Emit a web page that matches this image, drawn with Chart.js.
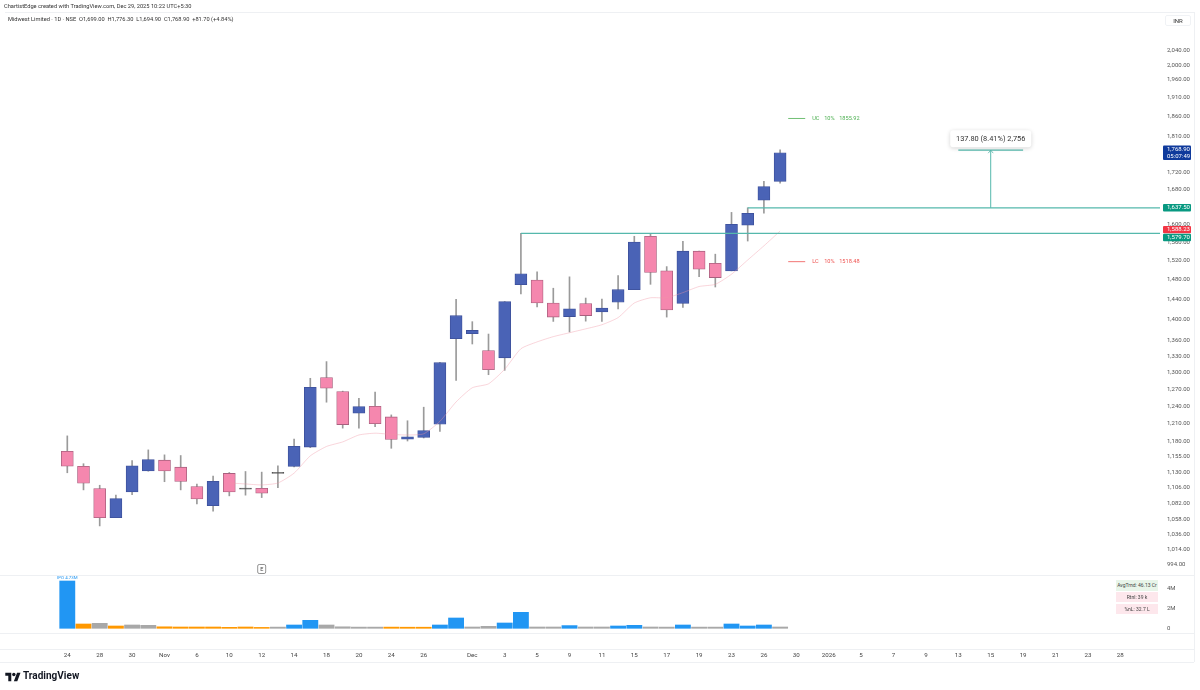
<!DOCTYPE html>
<html>
<head>
<meta charset="utf-8">
<title>Midwest Limited</title>
<script src="https://cdn.jsdelivr.net/npm/chart.js@4/dist/chart.umd.min.js"></script>
<style>
    html, body { margin: 0; padding: 0; background: #fff; }
    #wrap { position: relative; width: 1200px; height: 690px; overflow: hidden; font-family: Roboto, sans-serif; color: #333; }
    canvas { position: absolute; left: 0; top: 0; }
    .rule { position: absolute; background: #eef0f3; }
    .txt { position: absolute; white-space: nowrap; }
    .stat { position: absolute; left: 1116px; width: 42px; text-align: center; font-size: 5px; color: #444; }
</style>
</head>
<body>
<div id="wrap">
    <div class="rule" style="left:5px;top:12px;width:1189px;height:1px"></div>
    <div class="rule" style="left:1194px;top:12px;width:1px;height:650px"></div>
    <div class="rule" style="left:0;top:575px;width:1194px;height:1px"></div>
    <div class="rule" style="left:0;top:633px;width:1194px;height:1px"></div>
    <div class="rule" style="left:0;top:649px;width:1194px;height:1px"></div>
    <div class="rule" style="left:0;top:662px;width:1194px;height:1px"></div>
    <canvas id="chart" width="1200" height="690"></canvas>
    <div class="txt" style="left:4px;top:2px;font-size:5.7px;line-height:8px;color:#333">ChartistEdge created with TradingView.com, Dec 29, 2025 10:22 UTC+5:30</div>
    <div class="txt" style="left:8px;top:15px;font-size:5.7px;line-height:8px;color:#333">Midwest Limited · 1D · NSE&nbsp; O1,699.00&nbsp; H1,776.30&nbsp; L1,694.90&nbsp; C1,768.90&nbsp; +81.70 (+4.84%)</div>
    <div class="txt" style="left:1165px;top:15px;width:26px;height:11px;border:1px solid #f0f2f5;border-radius:2px;font-size:6px;line-height:10px;text-align:center;box-sizing:border-box">INR</div>
    <div class="stat" style="top:580px;height:11px;line-height:11px;background:#e8f5e9">AvgTrnd: 46.13 Cr</div>
    <div class="stat" style="top:592px;height:10px;line-height:10px;background:#fde7ec">Rtnl: 39 k</div>
    <div class="stat" style="top:604px;height:10px;line-height:10px;background:#fde7ec">%nL: 32.7 L</div>
    <svg style="position:absolute;left:5px;top:671px" width="16" height="12" viewBox="0 0 36 28"><path fill="#131722" d="M14 24H7V11H0V4h14v20zM28 24h-8l7.5-20h8L28 24z"/><circle cx="20" cy="8" r="4" fill="#131722"/></svg>
    <div class="txt" style="left:23px;top:669px;font-size:10px;line-height:14px;font-weight:700;color:#131722">TradingView</div>
</div>
<script>
// OHLC per session, IPO day first
const candleOpen = [1164, 1140, 1104.8, 1060.8, 1099.7, 1132.5, 1149.7, 1138.5, 1108, 1078.5, 1128.5, 1105.3, 1105.3, 1128.5, 1139.5, 1171, 1291, 1265.6, 1228, 1240, 1221.5, 1184, 1186.8, 1209, 1363, 1372.5, 1340.5, 1327, 1470.3, 1480, 1433, 1406, 1432, 1415, 1434.5, 1460, 1573.5, 1499, 1432, 1541, 1515, 1499, 1598.2, 1655, 1699];
const candleHigh = [1189.5, 1144, 1110, 1094.7, 1149, 1166.4, 1158.3, 1157.2, 1112, 1124.4, 1130, 1131.6, 1130.6, 1140.6, 1184, 1289.5, 1320, 1266.5, 1254, 1264.7, 1225, 1215, 1238.3, 1318.5, 1440.6, 1396, 1372, 1436, 1580, 1497, 1463, 1486.5, 1443, 1441, 1489, 1573.5, 1578.5, 1508, 1562.5, 1541, 1534.5, 1627, 1637.5, 1699.5, 1776.3];
const candleLow = [1129.6, 1102.8, 1048.5, 1060.8, 1095.6, 1132, 1115.5, 1102.8, 1081.5, 1070.5, 1093.6, 1094.7, 1091, 1106.3, 1139, 1170, 1247, 1202.5, 1202.5, 1205, 1169, 1181, 1186, 1197, 1285.6, 1353, 1296, 1304, 1451.5, 1425, 1396.5, 1376, 1397, 1396.5, 1421, 1460, 1471, 1405, 1424, 1487, 1465.5, 1499, 1563, 1625, 1694.9];
const candleClose = [1140, 1113.1, 1060.8, 1089.5, 1140.6, 1150.7, 1132.5, 1116, 1089, 1116, 1099.5, 1104, 1097.7, 1129.6, 1172.2, 1273.4, 1271.7, 1208.5, 1239.3, 1210, 1183.5, 1188, 1198.5, 1318, 1407.8, 1379, 1305, 1435.8, 1493, 1433, 1405, 1421.5, 1408, 1422.7, 1460, 1561, 1495.5, 1419, 1541, 1502.5, 1485, 1600, 1625, 1687.2, 1768.9];
const maValues = [null, null, null, null, null, null, null, null, null, null, 1113.5, 1112, 1110.5, 1113.5, 1129, 1156.7, 1172, 1179.5, 1191, 1194, 1192, 1191, 1193, 1214, 1247.5, 1272.5, 1279.5, 1306, 1344, 1357, 1367, 1374.5, 1382, 1390, 1404, 1433, 1443.5, 1443.5, 1454, 1466.5, 1471, 1492, 1522, 1552.5, 1585];
const volumes = [4.73e6, 0.43e6, 0.5e6, 0.23e6, 0.33e6, 0.3e6, 0.15e6, 0.13e6, 0.13e6, 0.13e6, 0.1e6, 0.13e6, 0.09e6, 0.12e6, 0.33e6, 0.8e6, 0.33e6, 0.15e6, 0.12e6, 0.12e6, 0.12e6, 0.11e6, 0.11e6, 0.33e6, 1.03e6, 0.13e6, 0.2e6, 0.53e6, 1.6e6, 0.13e6, 0.13e6, 0.27e6, 0.13e6, 0.13e6, 0.23e6, 0.3e6, 0.13e6, 0.12e6, 0.33e6, 0.12e6, 0.12e6, 0.43e6, 0.23e6, 0.33e6, 0.13e6];
const volumeClass = ['high', 'low', 'mid', 'low', 'mid', 'mid', 'low', 'low', 'low', 'low', 'low', 'low', 'low', 'mid', 'high', 'high', 'mid', 'mid', 'mid', 'mid', 'low', 'low', 'low', 'high', 'high', 'mid', 'mid', 'high', 'high', 'mid', 'mid', 'high', 'mid', 'mid', 'high', 'high', 'mid', 'mid', 'high', 'mid', 'mid', 'high', 'high', 'high', 'mid'];

const xTickBars = [0, 2, 4, 6, 8, 10, 12, 14, 16, 18, 20, 22, 25, 27, 29, 31, 33, 35, 37, 39, 41, 43, 45, 47, 49, 51, 53, 55, 57, 59, 61, 63, 65];
const xTickLabels = ['24', '28', '30', 'Nov', '6', '10', '12', '14', '18', '20', '24', '26', 'Dec', '3', '5', '9', '11', '15', '17', '19', '23', '26', '30', '2026', '5', '7', '9', '13', '15', '19', '21', '23', '28'];
const priceTicks = [2040, 2000, 1960, 1910, 1860, 1810, 1720, 1680, 1600, 1560, 1520, 1480, 1440, 1400, 1360, 1330, 1300, 1270, 1240, 1210, 1180, 1155, 1130, 1106, 1082, 1058, 1036, 1014, 994];
const volumeTicks = [0, 2e6, 4e6];

const upperCircuit = 1855.92;
const lowerCircuit = 1518.48;
const levelHigh = 1637.5;
const levelLow = 1579.7;
const levelHighBar = 42;
const levelLowBar = 28;
const ma200Label = 1588.23;
const measureBars = [55, 57, 59];
const measureTop = 1775.3;

const colors = {
    up: '#4a63b6', upEdge: '#3c4f99', down: '#f587ae', downEdge: '#a8607e', doji: '#555', wick: '#9a9a9a',
    ma: 'rgba(240,150,165,0.5)', teal: '#55b8ac',
    high: '#2196f3', mid: '#a8a8a8', low: '#ff9800'
};

const bars = candleOpen.map((_, i) => i);
const isUp = i => candleClose[i] >= candleOpen[i];
const isDoji = i => Math.abs(candleClose[i] - candleOpen[i]) < 1.5;
const money = v => v.toLocaleString('en-US', { minimumFractionDigits: 2, maximumFractionDigits: 2 });

const overlays = {
    id: 'overlays',
    afterDraw(chart) {
        const { ctx, chartArea, scales: { x, y, yVol } } = chart;
        const right = chartArea.right;
        const line = (x1, y1, x2, y2, color, w) => {
            ctx.strokeStyle = color;
            ctx.lineWidth = w;
            ctx.beginPath();
            ctx.moveTo(x1, y1);
            ctx.lineTo(x2, y2);
            ctx.stroke();
        };
        ctx.save();

        // support / resistance rays
        line(x.getPixelForValue(levelHighBar), y.getPixelForValue(levelHigh), right, y.getPixelForValue(levelHigh), colors.teal, 1.3);
        line(x.getPixelForValue(levelLowBar), y.getPixelForValue(levelLow), right, y.getPixelForValue(levelLow), colors.teal, 1.3);

        // circuit limits
        const capFrom = x.getPixelForValue(44.5), capTo = x.getPixelForValue(45.55);
        ctx.font = '5.6px Roboto';
        ctx.textBaseline = 'middle';
        ctx.textAlign = 'left';
        [[upperCircuit, 'UC', '#4caf50'], [lowerCircuit, 'LC', '#ef5350']].forEach(([v, name, c]) => {
            const py = y.getPixelForValue(v);
            line(capFrom, py, capTo, py, c, 0.8);
            ctx.fillStyle = c;
            ctx.fillText(name, capTo + 7, py);
            ctx.fillText('10%', capTo + 19, py);
            ctx.fillText(String(v), capTo + 34, py);
        });

        // price range measure
        const mx = x.getPixelForValue(measureBars[1]);
        const topY = y.getPixelForValue(measureTop);
        line(x.getPixelForValue(measureBars[0]), topY, x.getPixelForValue(measureBars[2]), topY, colors.teal, 1.2);
        line(mx, y.getPixelForValue(levelHigh), mx, topY, colors.teal, 1);
        line(mx - 2.5, topY + 3, mx, topY, colors.teal, 0.8);
        line(mx + 2.5, topY + 3, mx, topY, colors.teal, 0.8);
        const boxW = 81, boxH = 17;
        ctx.save();
        ctx.shadowColor = 'rgba(0,0,0,0.18)';
        ctx.shadowBlur = 4;
        ctx.shadowOffsetY = 1;
        ctx.fillStyle = '#fff';
        ctx.beginPath();
        ctx.roundRect(mx - boxW / 2, topY - 20, boxW, boxH, 3);
        ctx.fill();
        ctx.restore();
        ctx.fillStyle = '#333';
        ctx.font = '7.4px Roboto';
        ctx.textAlign = 'center';
        ctx.fillText('137.80 (8.41%) 2,756', mx, topY - 11.5);

        // IPO tag on the first volume bar
        ctx.fillStyle = colors.high;
        ctx.font = '4.4px Roboto';
        ctx.fillText('IPO 4.73M', x.getPixelForValue(0), yVol.getPixelForValue(volumes[0]) - 3);

        // earnings marker
        const ex = x.getPixelForValue(12);
        ctx.strokeStyle = '#777';
        ctx.lineWidth = 0.8;
        ctx.beginPath();
        ctx.roundRect(ex - 4, 564.5, 8, 9, 1.5);
        ctx.stroke();
        ctx.fillStyle = '#444';
        ctx.font = '5.5px Roboto';
        ctx.fillText('E', ex, 569.3);

        // price badges on the axis, later ones on top
        const badge = (py, h, bg, rows) => {
            ctx.fillStyle = bg;
            ctx.beginPath();
            ctx.roundRect(1163, py - h / 2, 28, h, 1);
            ctx.fill();
            ctx.fillStyle = '#fff';
            ctx.font = '6px Roboto';
            ctx.textAlign = 'left';
            rows.forEach((t, n) => ctx.fillText(t, 1167, py + (n - (rows.length - 1) / 2) * 6.6));
        };
        badge(y.getPixelForValue(candleClose[44]), 14.5, '#0f3a9c', [money(candleClose[44]), '05:07:49']);
        badge(y.getPixelForValue(levelHigh), 7.4, '#089981', [money(levelHigh)]);
        badge(y.getPixelForValue(ma200Label), 7.4, '#f23645', [money(ma200Label)]);
        badge(y.getPixelForValue(levelLow) + 4, 7.4, '#089981', [money(levelLow)]);

        ctx.restore();
    }
};

new Chart(document.getElementById('chart'), {
    data: {
        datasets: [
            {
                type: 'line',
                yAxisID: 'y',
                order: 0,
                data: bars.map(i => ({ x: i, y: maValues[i] })),
                borderColor: colors.ma,
                borderWidth: 0.8,
                pointRadius: 0,
                tension: 0.2,
                spanGaps: false
            },
            {
                type: 'bar',
                yAxisID: 'y',
                order: 1,
                grouped: false,
                barThickness: 12,
                minBarLength: 1,
                borderSkipped: false,
                borderWidth: 0.8,
                data: bars.map(i => ({ x: i, y: [candleOpen[i], candleClose[i]] })),
                backgroundColor: bars.map(i => isDoji(i) ? colors.doji : isUp(i) ? colors.up : colors.down),
                borderColor: bars.map(i => isDoji(i) ? colors.doji : isUp(i) ? colors.upEdge : colors.downEdge)
            },
            {
                type: 'bar',
                yAxisID: 'y',
                order: 2,
                grouped: false,
                barThickness: 1,
                data: bars.map(i => ({ x: i, y: [candleLow[i], candleHigh[i]] })),
                backgroundColor: colors.wick
            },
            {
                type: 'bar',
                yAxisID: 'yVol',
                order: 3,
                grouped: false,
                barThickness: 15.2,
                data: bars.map(i => ({ x: i, y: volumes[i] })),
                backgroundColor: bars.map(i => colors[volumeClass[i]])
            }
        ]
    },
    plugins: [overlays],
    options: {
        responsive: false,
        animation: false,
        devicePixelRatio: 1,
        layout: { autoPadding: false, padding: { top: 12, left: 0, right: 0, bottom: 0 } },
        plugins: { legend: { display: false }, tooltip: { enabled: false } },
        scales: {
            x: {
                type: 'linear',
                position: 'bottom',
                offset: false,
                min: -4.154,
                max: 67.45,
                grid: { display: false },
                border: { display: false },
                afterBuildTicks: s => { s.ticks = xTickBars.map(v => ({ value: v })); },
                afterFit: s => { s.height = 58; },
                ticks: {
                    autoSkip: false,
                    maxRotation: 0,
                    padding: 12,
                    color: '#444',
                    font: { family: 'Roboto', size: 6.2 },
                    callback: (v, i) => xTickLabels[i]
                }
            },
            y: {
                type: 'logarithmic',
                position: 'right',
                stack: 'panes',
                stackWeight: 563,
                min: 978.8,
                max: 2154.6,
                grid: { display: false, drawTicks: false },
                border: { display: false },
                afterBuildTicks: s => { s.ticks = priceTicks.map(v => ({ value: v })); },
                afterFit: s => { s.width = 40; },
                ticks: {
                    autoSkip: false,
                    padding: 7,
                    color: '#555',
                    font: { family: 'Roboto', size: 6 },
                    callback: v => money(v)
                }
            },
            yVol: {
                type: 'linear',
                position: 'right',
                stack: 'panes',
                stackWeight: 57,
                min: -0.37e6,
                max: 5.33e6,
                grid: { display: false, drawTicks: false },
                border: { display: false },
                afterBuildTicks: s => { s.ticks = volumeTicks.map(v => ({ value: v })); },
                afterFit: s => { s.width = 40; },
                ticks: {
                    autoSkip: false,
                    padding: 7,
                    color: '#555',
                    font: { family: 'Roboto', size: 6 },
                    callback: v => v === 0 ? '0' : (v / 1e6) + 'M'
                }
            }
        }
    }
});
</script>
</body>
</html>
